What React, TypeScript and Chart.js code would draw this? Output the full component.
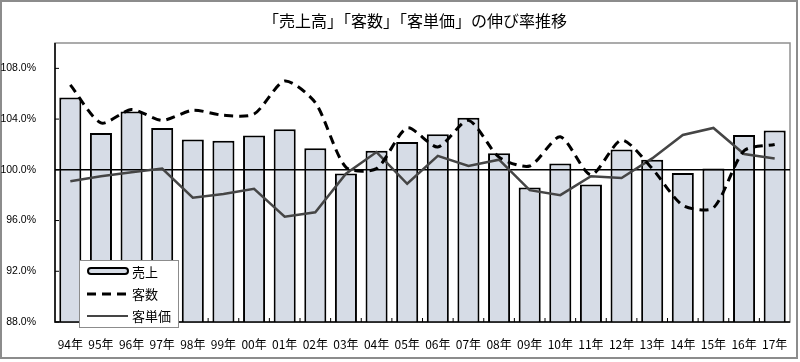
import React, { useEffect, useRef } from "react";
import { Chart, registerables } from "chart.js";

Chart.register(...registerables);

const categories = ["94年","95年","96年","97年","98年","99年","00年","01年","02年","03年","04年","05年","06年","07年","08年","09年","10年","11年","12年","13年","14年","15年","16年","17年"];
const sales = [105.7,102.9,104.6,103.3,102.4,102.3,102.7,103.2,101.7,99.7,101.5,102.2,102.8,104.1,101.3,98.6,100.5,98.85,101.6,100.8,99.75,100.1,102.75,103.1];
const customers = [106.7,103.7,104.75,103.9,104.7,104.3,104.4,107.0,105.3,100.2,100.1,103.3,101.8,103.9,101.0,100.3,102.6,99.6,102.35,100.1,97.2,97.0,101.5,102.0];
const unitPrice = [99.1,99.5,99.8,100.1,97.8,98.1,98.5,96.3,96.65,99.7,101.4,98.9,101.1,100.3,100.8,98.4,98.0,99.5,99.35,100.9,102.75,103.3,101.25,100.9];
const yTicks = [88, 92, 96, 100, 104, 108];
const title = "「売上高」「客数」「客単価」の伸び率推移";
const legendLabels = ["売上", "客数", "客単価"];

const BAR_FILL = "#d6dce6";
const PRICE_COLOR = "#454545";
const JP = "'Noto Sans CJK JP', 'Liberation Sans', sans-serif";

const customPlugin = {
  id: "custom",
  beforeDraw(chart: any) {
    const ctx = chart.ctx;
    ctx.save();
    ctx.fillStyle = "#fff";
    ctx.fillRect(0, 0, chart.width, chart.height);
    ctx.strokeStyle = "#8c8c8c";
    ctx.lineWidth = 2;
    ctx.strokeRect(1, 1, chart.width - 4, chart.height - 5);
    const a = chart.chartArea;
    ctx.strokeStyle = "#909090";
    ctx.lineWidth = 1.5;
    ctx.strokeRect(a.left, a.top, a.right - a.left, a.bottom - a.top);
    ctx.restore();
  },
  afterDatasetDraw(chart: any, args: any) {
    if (args.meta.type !== "bar") return;
    const ctx = chart.ctx;
    const a = chart.chartArea;
    const y = chart.scales.y.getPixelForValue(100);
    ctx.save();
    ctx.strokeStyle = "#000";
    ctx.lineWidth = 1.5;
    ctx.beginPath();
    ctx.moveTo(a.left, y);
    ctx.lineTo(a.right, y);
    ctx.stroke();
    ctx.restore();
  },
  afterDraw(chart: any) {
    const ctx = chart.ctx;
    const a = chart.chartArea;
    const ys = chart.scales.y;
    const xs = chart.scales.x;
    ctx.save();
    ctx.strokeStyle = "#000";
    ctx.lineWidth = 1.5;
    ctx.beginPath();
    ctx.moveTo(a.left, a.top);
    ctx.lineTo(a.left, a.bottom);
    ctx.lineTo(a.right, a.bottom);
    ctx.stroke();
    ctx.lineWidth = 1;
    ctx.beginPath();
    for (const v of yTicks) {
      const y = ys.getPixelForValue(v);
      ctx.moveTo(a.left, y);
      ctx.lineTo(a.left + 4, y);
    }
    const n = categories.length;
    const w = (xs.right - xs.left) / n;
    for (let i = 1; i < n; i++) {
      const x = xs.left + i * w;
      ctx.moveTo(x, a.bottom);
      ctx.lineTo(x, a.bottom - 4);
    }
    ctx.stroke();
    ctx.fillStyle = "#000";
    ctx.font = `16px ${JP}`;
    ctx.textAlign = "center";
    ctx.textBaseline = "middle";
    ctx.fillText(title, 415, 21);
    const lx = 79, ly = 260, lw = 99, lh = 67;
    ctx.fillStyle = "#fff";
    ctx.fillRect(lx, ly, lw, lh);
    ctx.strokeStyle = "#8c8c8c";
    ctx.lineWidth = 1;
    ctx.strokeRect(lx + 0.5, ly + 0.5, lw, lh);
    ctx.fillStyle = BAR_FILL;
    ctx.strokeStyle = "#000";
    ctx.lineWidth = 2;
    ctx.beginPath();
    (ctx as any).roundRect(88, 268, 40, 6, 3);
    ctx.fill();
    ctx.stroke();
    ctx.lineWidth = 3;
    ctx.setLineDash([9, 6]);
    ctx.beginPath();
    ctx.moveTo(87, 294);
    ctx.lineTo(128, 294);
    ctx.stroke();
    ctx.setLineDash([]);
    ctx.strokeStyle = PRICE_COLOR;
    ctx.lineWidth = 2;
    ctx.beginPath();
    ctx.moveTo(87, 316);
    ctx.lineTo(128, 316);
    ctx.stroke();
    ctx.fillStyle = "#000";
    ctx.font = `13px ${JP}`;
    ctx.textAlign = "left";
    ctx.fillText(legendLabels[0], 132, 272);
    ctx.fillText(legendLabels[1], 132, 294);
    ctx.fillText(legendLabels[2], 132, 316);
    ctx.restore();
  },
};

export default function App() {
  const ref = useRef<HTMLCanvasElement>(null);
  useEffect(() => {
    if (!ref.current) return;
    const chart = new Chart(ref.current, {
      type: "bar",
      data: {
        labels: categories,
        datasets: [
          {
            type: "line",
            label: legendLabels[1],
            data: customers,
            borderColor: "#000",
            borderWidth: 3,
            borderDash: [9, 6],
            pointRadius: 0,
            tension: 0.25,
            fill: false,
            order: 1,
          } as any,
          {
            type: "line",
            label: legendLabels[2],
            data: unitPrice,
            borderColor: PRICE_COLOR,
            borderWidth: 2.5,
            pointRadius: 0,
            tension: 0,
            fill: false,
            order: 2,
          } as any,
          {
            type: "bar",
            label: legendLabels[0],
            data: sales,
            backgroundColor: BAR_FILL,
            borderColor: "#000",
            borderWidth: 2,
            borderSkipped: false,
            barPercentage: 0.72,
            categoryPercentage: 1,
            order: 3,
          } as any,
        ],
      },
      options: {
        animation: false,
        responsive: false,
        devicePixelRatio: 1,
        layout: { padding: { top: 43, right: 10, left: 0, bottom: 0 } },
        plugins: { legend: { display: false }, title: { display: false }, tooltip: { enabled: false } },
        scales: {
          x: {
            grid: { display: false },
            border: { display: false },
            ticks: {
              color: "#000",
              font: { size: 12, family: JP },
              padding: 7,
              maxRotation: 0,
              autoSkip: false,
            },
            afterFit: (s: any) => { s.height = 40; },
          },
          y: {
            min: 88,
            max: 110,
            grid: { display: false },
            border: { display: false },
            afterBuildTicks: (s: any) => { s.ticks = yTicks.map((v) => ({ value: v })); },
            ticks: {
              color: "#000",
              font: { size: 10.5, family: "'Liberation Sans', Arial, sans-serif" },
              padding: 11,
              callback: (v: any) => Number(v).toFixed(1) + "%",
            },
            afterFit: (s: any) => { s.width = 55; },
          },
        },
      },
      plugins: [customPlugin],
    });
    return () => chart.destroy();
  }, []);
  return (
    <div style={{ position: "fixed", left: 0, top: 0, width: 800, height: 362 }}>
      <canvas ref={ref} width={800} height={362} style={{ width: 800, height: 362 }} />
    </div>
  );
}
